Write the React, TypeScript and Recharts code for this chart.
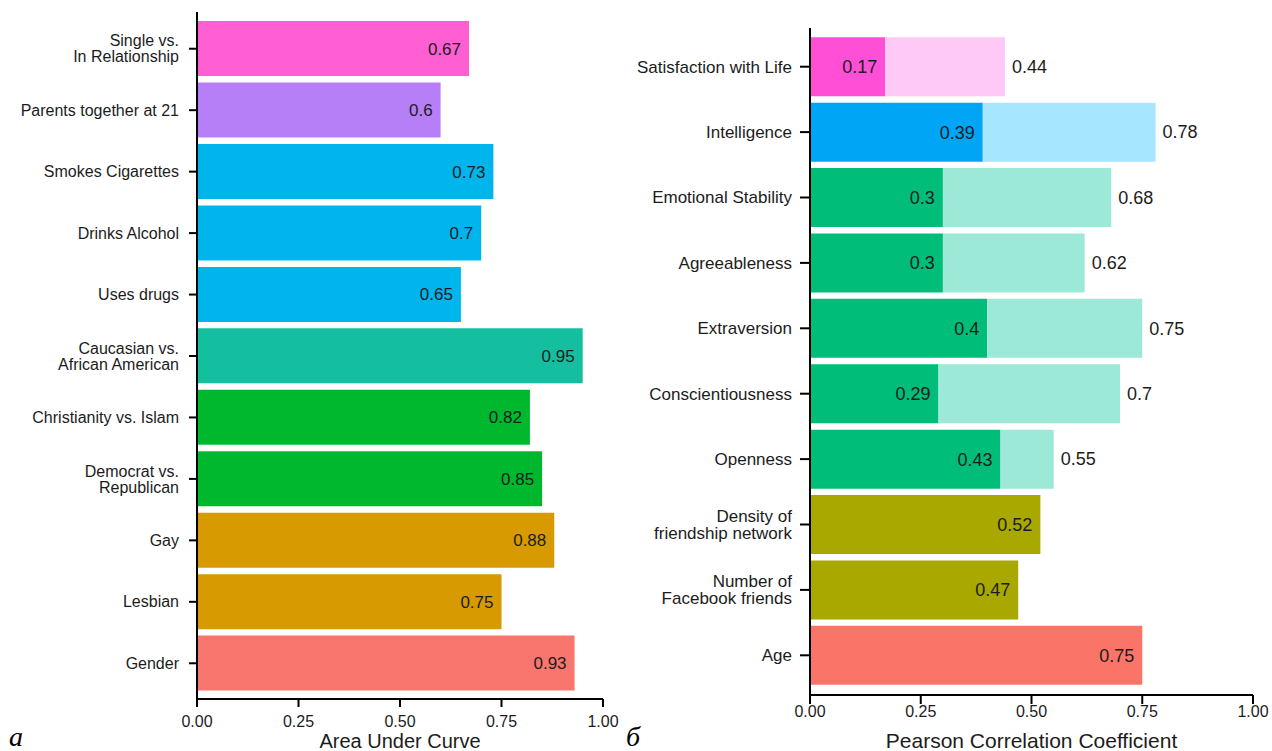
import { Bar, BarChart, Cell, LabelList, XAxis, YAxis } from "recharts";

// panel a: area under curve
const aucLabels = [
  "Single vs.\nIn Relationship",
  "Parents together at 21",
  "Smokes Cigarettes",
  "Drinks Alcohol",
  "Uses drugs",
  "Caucasian vs.\nAfrican American",
  "Christianity vs. Islam",
  "Democrat vs.\nRepublican",
  "Gay",
  "Lesbian",
  "Gender",
];
const aucValues = [0.67, 0.6, 0.73, 0.7, 0.65, 0.95, 0.82, 0.85, 0.88, 0.75, 0.93];
const aucColors = [
  "#FF5FD2", "#B77FF7", "#00B5EC", "#00B5EC", "#00B5EC",
  "#14BFA0", "#00B82E", "#00B82E", "#D79A00", "#D79A00", "#F8766D",
];

// panel b: pearson correlation
const corrLabels = [
  "Satisfaction with Life",
  "Intelligence",
  "Emotional Stability",
  "Agreeableness",
  "Extraversion",
  "Conscientiousness",
  "Openness",
  "Density of\nfriendship network",
  "Number of\nFacebook friends",
  "Age",
];
const corrValues = [0.17, 0.39, 0.3, 0.3, 0.4, 0.29, 0.43, 0.52, 0.47, 0.75];
const corrTotals = [0.44, 0.78, 0.68, 0.62, 0.75, 0.7, 0.55, null, null, null];
const corrColors = [
  "#FF4FD6", "#00A6F5", "#00BD7A", "#00BD7A", "#00BD7A",
  "#00BD7A", "#00BD7A", "#A8A800", "#A8A800", "#FA7568",
];
const corrLight = [
  "#FFC9F6", "#A6E6FF", "#9CE9D7", "#9CE9D7", "#9CE9D7",
  "#9CE9D7", "#9CE9D7", "none", "none", "none",
];

const xTicks = [0, 0.25, 0.5, 0.75, 1];
const FONT = '"Liberation Sans", Arial, sans-serif';
const TEXT = "#1c1c1c";

const aucData = aucLabels.map((name, i) => ({ name, value: aucValues[i] }));
const corrData = corrLabels.map((name, i) => {
  const total = corrTotals[i];
  return {
    name,
    value: corrValues[i],
    extra: total == null ? 0 : total - corrValues[i],
    total,
  };
});

function MultiTick(props: any) {
  const { x, y, payload, fontSize, lineHeight } = props;
  const lines = String(payload.value).split("\n");
  const start = -((lines.length - 1) * lineHeight) / 2 + fontSize * 0.35;
  return (
    <text x={x} y={y} textAnchor="end" fontSize={fontSize} fill={TEXT} fontFamily={FONT}>
      {lines.map((l, i) => (
        <tspan key={i} x={x} dy={i === 0 ? start : lineHeight}>
          {l}
        </tspan>
      ))}
    </text>
  );
}

function TotalLabel(props: any) {
  const { x, y, width, height, index } = props;
  const total = corrTotals[index];
  if (total == null) return null;
  return (
    <text
      x={x + width + 7}
      y={y + height / 2}
      dy="0.35em"
      fontSize={18}
      fill={TEXT}
      fontFamily={FONT}
      textAnchor="start"
    >
      {String(total)}
    </text>
  );
}

function PanelA() {
  return (
    <BarChart
      width={620}
      height={751}
      data={aucData}
      layout="vertical"
      barCategoryGap="5%"
      margin={{ top: 12, right: 17, bottom: 0, left: 0 }}
      style={{ overflow: "visible" }}
    >
      <XAxis
        type="number"
        domain={[0, 1]}
        ticks={xTicks}
        tickFormatter={(v: number) => v.toFixed(2)}
        height={52}
        tickSize={8}
        tickMargin={9}
        axisLine={{ stroke: "#000", strokeWidth: 2 }}
        tickLine={{ stroke: "#000", strokeWidth: 2 }}
        tick={{ fontSize: 16, fill: TEXT, fontFamily: FONT }}
        label={{ value: "Area Under Curve", position: "insideBottom", offset: 3, fontSize: 20, fill: TEXT, fontFamily: FONT }}
      />
      <YAxis
        type="category"
        dataKey="name"
        width={197}
        padding={{ top: 6, bottom: 5 }}
        tickSize={8}
        tickMargin={10}
        interval={0}
        axisLine={{ stroke: "#000", strokeWidth: 2 }}
        tickLine={{ stroke: "#000", strokeWidth: 2 }}
        tick={<MultiTick fontSize={16} lineHeight={16} />}
      />
      <Bar dataKey="value" isAnimationActive={false}>
        {aucData.map((_, i) => (
          <Cell key={i} fill={aucColors[i]} />
        ))}
        <LabelList
          dataKey="value"
          position="insideRight"
          offset={8}
          fontSize={17}
          fill={TEXT}
          fontFamily={FONT}
        />
      </Bar>
    </BarChart>
  );
}

function PanelB() {
  return (
    <BarChart
      width={652}
      height={751}
      data={corrData}
      layout="vertical"
      barCategoryGap="5%"
      margin={{ top: 28, right: 19, bottom: 0, left: 0 }}
      style={{ overflow: "visible" }}
    >
      <XAxis
        type="number"
        domain={[0, 1]}
        ticks={xTicks}
        tickFormatter={(v: number) => v.toFixed(2)}
        height={56}
        tickSize={9}
        tickMargin={2}
        axisLine={{ stroke: "#000", strokeWidth: 2 }}
        tickLine={{ stroke: "#000", strokeWidth: 2 }}
        tick={{ fontSize: 16, fill: TEXT, fontFamily: FONT }}
        label={{ value: "Pearson Correlation Coefficient", position: "insideBottom", offset: 3, fontSize: 21, fill: TEXT, fontFamily: FONT }}
      />
      <YAxis
        type="category"
        dataKey="name"
        width={190}
        padding={{ top: 6, bottom: 7 }}
        tickSize={10}
        tickMargin={8}
        interval={0}
        axisLine={{ stroke: "#000", strokeWidth: 2 }}
        tickLine={{ stroke: "#000", strokeWidth: 2 }}
        tick={<MultiTick fontSize={17} lineHeight={17} />}
      />
      <Bar dataKey="value" stackId="r" isAnimationActive={false}>
        {corrData.map((_, i) => (
          <Cell key={i} fill={corrColors[i]} />
        ))}
        <LabelList
          dataKey="value"
          position="insideRight"
          offset={8}
          fontSize={18}
          fill={TEXT}
          fontFamily={FONT}
        />
      </Bar>
      <Bar dataKey="extra" stackId="r" isAnimationActive={false}>
        {corrData.map((_, i) => (
          <Cell key={i} fill={corrLight[i]} />
        ))}
        <LabelList dataKey="total" content={<TotalLabel />} />
      </Bar>
    </BarChart>
  );
}

export default function App() {
  return (
    <div
      style={{
        position: "absolute",
        left: 0,
        top: 0,
        width: 1272,
        height: 751,
        background: "#fff",
        overflow: "hidden",
      }}
    >
      <div style={{ position: "absolute", left: 0, top: 0 }}>
        <PanelA />
      </div>
      <div style={{ position: "absolute", left: 620, top: 0 }}>
        <PanelB />
      </div>
      <div
        style={{
          position: "absolute",
          left: 9,
          top: 722,
          fontFamily: '"Liberation Serif", serif',
          fontStyle: "italic",
          fontSize: 28,
          lineHeight: "30px",
        }}
      >
        а
      </div>
      <div
        style={{
          position: "absolute",
          left: 626,
          top: 722,
          fontFamily: '"Liberation Serif", serif',
          fontStyle: "italic",
          fontSize: 28,
          lineHeight: "30px",
        }}
      >
        б
      </div>
    </div>
  );
}
